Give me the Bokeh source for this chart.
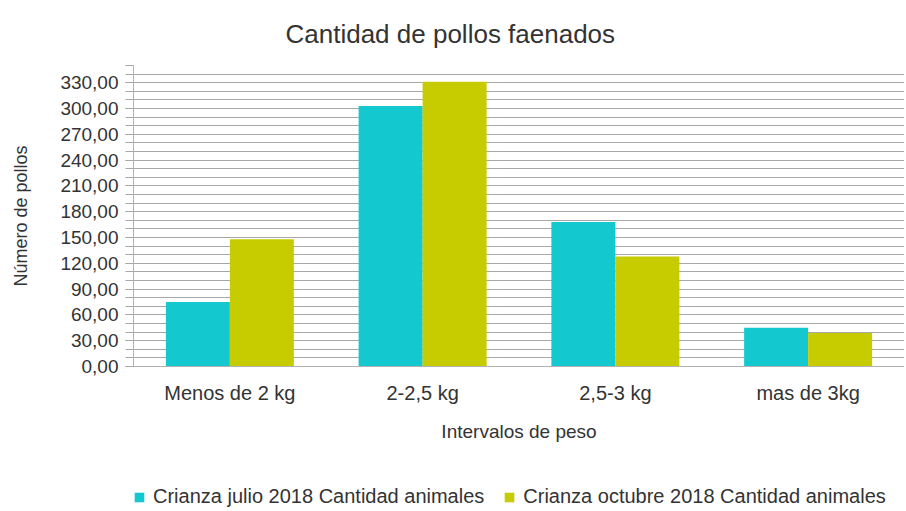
from bokeh.plotting import figure
from bokeh.layouts import column
from bokeh.models import (ColumnDataSource, FactorRange, Range1d, FixedTicker,
                          Legend, LegendItem)
from bokeh.transform import dodge
from bokeh.embed import file_html
from bokeh.resources import INLINE

# ---- data ----
categories = ["Menos de 2 kg", "2-2,5 kg", "2,5-3 kg", "mas de 3kg"]
julio = [75, 303, 168, 45]
octubre = [148, 331, 128, 39]
series_names = ["Crianza julio 2018 Cantidad animales",
                "Crianza octubre 2018 Cantidad animales"]
y_ticks = [0, 30, 60, 90, 120, 150, 180, 210, 240, 270, 300, 330]
y_tick_labels = ["0,00", "30,00", "60,00", "90,00", "120,00", "150,00",
                 "180,00", "210,00", "240,00", "270,00", "300,00", "330,00"]
y_minor_ticks = list(range(0, 351, 10))
title_text = "Cantidad de pollos faenados"
x_title = "Intervalos de peso"
y_title = "Número de pollos"

TEAL = "#14c8d0"
OLIVE = "#c6cc00"
FONT = "Liberation Sans"
TXT = "#333333"
GRID = "#a8a8a8"

src = ColumnDataSource(dict(cat=categories, julio=julio, octubre=octubre))

# ---------------- main chart ----------------
p = figure(x_range=FactorRange(*categories, range_padding=0),
           y_range=Range1d(0, 350),
           width=904, height=455,
           output_backend="svg", toolbar_location=None,
           min_border_left=133, min_border_right=0,
           min_border_top=64, min_border_bottom=89)

p.vbar(x=dodge("cat", -0.166, range=p.x_range), top="julio", width=0.332,
       source=src, fill_color=TEAL, line_color=None)
p.vbar(x=dodge("cat", 0.166, range=p.x_range), top="octubre", width=0.332,
       source=src, fill_color=OLIVE, line_color=None)

# title
p.title.text = title_text
p.title.align = "left"
p.title.offset = 152
p.title.standoff = 33
p.title.text_font = FONT
p.title.text_font_size = "26px"
p.title.text_font_style = "normal"
p.title.text_color = TXT

p.outline_line_color = None
p.background_fill_color = "white"
p.border_fill_color = "white"

# grids
p.xgrid.grid_line_color = None
p.ygrid.grid_line_color = GRID
p.ygrid.minor_grid_line_color = GRID

# y axis
p.yaxis.ticker = FixedTicker(ticks=y_ticks, minor_ticks=y_minor_ticks)
p.yaxis.major_label_overrides = dict(zip(y_ticks, y_tick_labels))
p.yaxis.axis_line_color = "#b3b3b3"
p.yaxis.major_tick_line_color = GRID
p.yaxis.minor_tick_line_color = GRID
p.yaxis.major_tick_out = 8
p.yaxis.major_tick_in = 0
p.yaxis.minor_tick_out = 8
p.yaxis.minor_tick_in = 0
p.yaxis.major_label_standoff = 7
p.yaxis.major_label_text_font = FONT
p.yaxis.major_label_text_font_size = "19px"
p.yaxis.major_label_text_color = TXT
p.yaxis.axis_label = y_title
p.yaxis.axis_label_text_font = FONT
p.yaxis.axis_label_text_font_size = "18px"
p.yaxis.axis_label_text_font_style = "normal"
p.yaxis.axis_label_text_color = TXT
p.yaxis.axis_label_standoff = 26

# x axis
p.xaxis.axis_line_color = "#b3b3b3"
p.xaxis.major_tick_line_color = None
p.xaxis.major_tick_out = 0
p.xaxis.major_tick_in = 0
p.xaxis.major_label_standoff = 15
p.xaxis.major_label_text_font = FONT
p.xaxis.major_label_text_font_size = "20px"
p.xaxis.major_label_text_color = TXT
p.xaxis.axis_label = x_title
p.xaxis.axis_label_text_font = FONT
p.xaxis.axis_label_text_font_size = "19px"
p.xaxis.axis_label_text_font_style = "normal"
p.xaxis.axis_label_text_color = TXT
p.xaxis.axis_label_standoff = 14

# ---------------- legend strip ----------------
p2 = figure(x_range=FactorRange(*categories), y_range=Range1d(0, 1),
            width=904, height=54, output_backend="svg", toolbar_location=None,
            x_axis_location=None, y_axis_location=None,
            min_border_left=0, min_border_right=0,
            min_border_top=0, min_border_bottom=0)
p2.grid.grid_line_color = None
p2.outline_line_color = None
p2.background_fill_color = "white"
p2.border_fill_color = "white"

l1 = p2.vbar(x="cat", top="julio", width=0.3, source=src,
             fill_color=TEAL, line_color=None, visible=False)
l2 = p2.vbar(x="cat", top="octubre", width=0.3, source=src,
             fill_color=OLIVE, line_color=None, visible=False)

legend = Legend(items=[LegendItem(label=series_names[0], renderers=[l1]),
                       LegendItem(label=series_names[1], renderers=[l2])],
                orientation="horizontal", location=(0, 1),
                padding=0, margin=0, spacing=19, label_standoff=8,
                glyph_width=12, glyph_height=12,
                label_text_font=FONT, label_text_font_size="20px",
                label_text_color=TXT,
                border_line_color=None, background_fill_alpha=0)
p2.add_layout(legend)

layout = column(p, p2)
open("out.html", "w").write(file_html(layout, INLINE))
